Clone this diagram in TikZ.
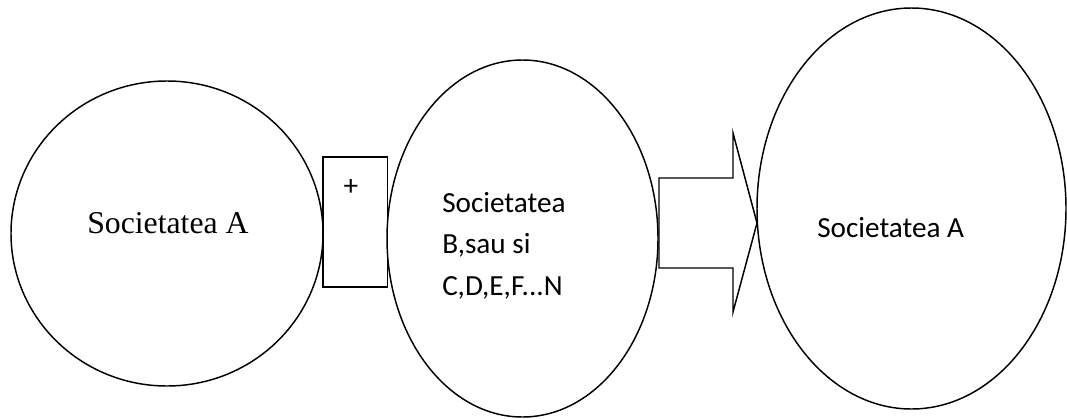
\documentclass[tikz,border=0pt]{standalone}
\usepackage{fontspec}
\newfontfamily\bodysans{Carlito}
\newfontfamily\bodyserif{Liberation Serif}
\usetikzlibrary{shapes.geometric,calc}
\begin{document}
\begin{tikzpicture}[x=0.75pt,y=-0.75pt,
  outline/.style={draw=black, line width=1.1pt},
  company/.style={outline, ellipse, inner sep=0pt, outer sep=0pt},
  sanslabel/.style={font=\bodysans\fontsize{21.9}{30}\selectfont, inner sep=0pt, anchor=base west},
  seriflabel/.style={font=\bodyserif\fontsize{23.8}{28}\selectfont, inner sep=0pt, anchor=base west}]
\useasboundingbox (0,0) rectangle (1067,418);

% the three companies
\node[company, minimum width=234pt, minimum height=228.75pt] (socA) at (167,233.5) {};
\node[company, minimum width=203.25pt, minimum height=267.75pt] (socB) at (522.5,238.5) {};
\node[company, minimum width=231.75pt, minimum height=300.75pt] (socR) at (911.5,208.5) {};

% the "+" box between the first two
\node[outline, rectangle, minimum width=48.4pt, minimum height=97.5pt, inner sep=0pt] (plus) at (355.25,222) {};
\node[font=\bodysans\fontsize{21.9}{26}\selectfont, inner sep=0pt] (plussign) at (351,187) {+};

% block arrow towards the result
\coordinate (tail) at (659,223);
\coordinate (tip) at (757,223);
\draw[outline, line join=miter]
  ($(tail)+(0,-45)$) -- (733,178) -- (733,133) -- (tip) -- (733,312) -- (733,268) -- ($(tail)+(0,45)$) -- cycle;

% labels
\node[seriflabel] (labA) at (87,233) {Societatea A};
\node[sanslabel] (labB1) at (442,212) {Societatea};
\node[sanslabel] (labB2) at (442,253) {B,sau si};
\node[sanslabel] (labB3) at (442,295) {C,D,E,F...N};
\node[sanslabel] (labR) at (817,237) {Societatea A};
\end{tikzpicture}
\end{document}
